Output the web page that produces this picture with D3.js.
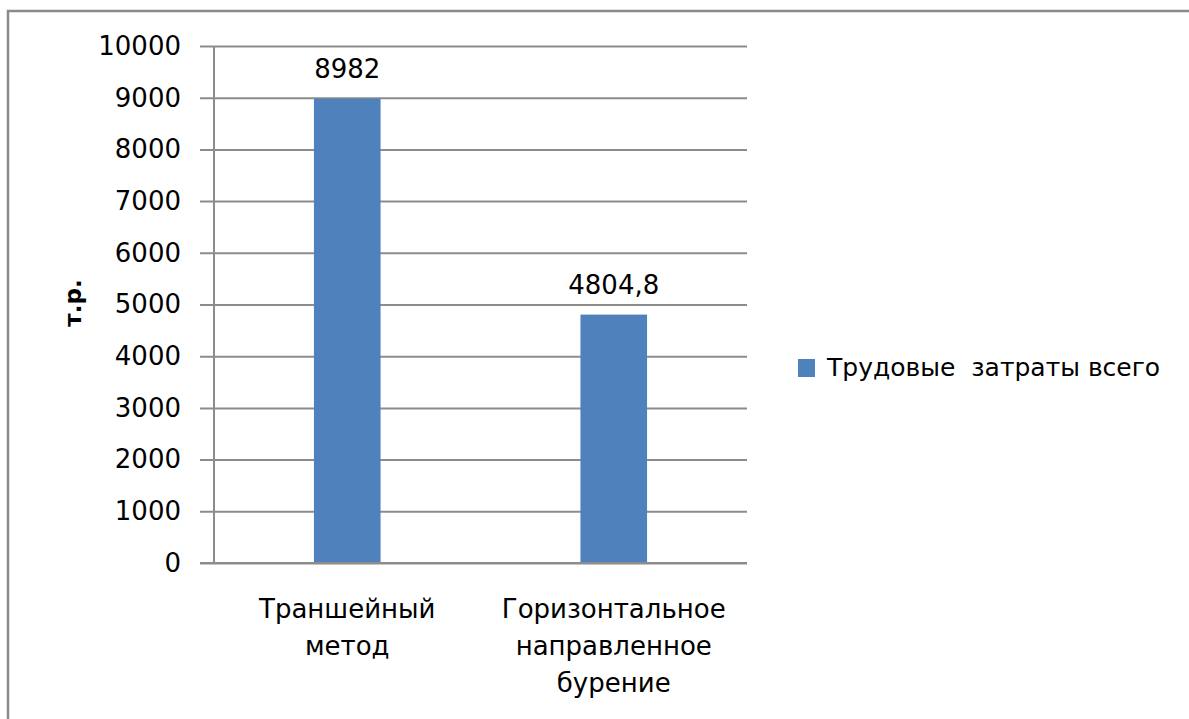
<!DOCTYPE html>
<html>
<head>
<meta charset="utf-8">
<script src="https://cdn.jsdelivr.net/npm/d3@7"></script>
<style>
  html, body { margin: 0; padding: 0; background: #fff; }
  svg { display: block; }
  text { font-family: "DejaVu Sans", Verdana, sans-serif; fill: #000; }
</style>
</head>
<body>
<svg id="chart" width="1189" height="719"></svg>
<script>
const categories = [["Траншейный", "метод"], ["Горизонтальное", "направленное", "бурение"]];
const values = [8982, 4804.8];
const valueLabels = ["8982", "4804,8"];
const yTicks = [0, 1000, 2000, 3000, 4000, 5000, 6000, 7000, 8000, 9000, 10000];
const seriesName = "Трудовые  затраты всего";
const yTitle = "т.р.";

const svg = d3.select("#chart");
const W = 1189, H = 719;
const plot = { left: 214, right: 747, top: 46, bottom: 563 };
const fontSize = 26;
const gridColor = "#8c8c8c";
const barColor = "#4f81bd";

// outer border (cropped at right/bottom)
svg.append("rect").attr("x", 8).attr("y", 11).attr("width", W + 20).attr("height", H + 20)
  .attr("fill", "#fff").attr("stroke", "#8a8a8a").attr("stroke-width", 2.5);

const x = d3.scaleBand().domain(d3.range(values.length)).range([plot.left, plot.right])
  .paddingInner(0.75).paddingOuter(0.375);
const y = d3.scaleLinear().domain([0, 10000]).range([plot.bottom, plot.top]);

// gridlines + tick marks
const yAxis = d3.axisLeft(y).tickValues(yTicks).tickSize(-(plot.right - plot.left)).tickPadding(33)
  .tickFormat(d3.format("d"));
const gY = svg.append("g").attr("transform", `translate(${plot.left},0)`).call(yAxis);
gY.select(".domain").remove();
gY.selectAll(".tick line").attr("stroke", gridColor).attr("stroke-width", 2)
  .attr("x1", -14);
gY.selectAll(".tick text").attr("font-size", fontSize).attr("font-family", "DejaVu Sans").attr("fill", "#000");

// y axis line
svg.append("line").attr("x1", plot.left).attr("x2", plot.left).attr("y1", plot.top).attr("y2", plot.bottom)
  .attr("stroke", gridColor).attr("stroke-width", 2);

// bars
svg.selectAll("rect.bar").data(values).enter().append("rect").attr("class", "bar")
  .attr("x", (d, i) => x(i)).attr("width", x.bandwidth())
  .attr("y", d => y(d)).attr("height", d => plot.bottom - y(d))
  .attr("fill", barColor);

// redraw baseline on top of bars
svg.append("line").attr("x1", plot.left - 14).attr("x2", plot.right).attr("y1", y(0)).attr("y2", y(0))
  .attr("stroke", gridColor).attr("stroke-width", 2);

// value labels
svg.selectAll("text.val").data(values).enter().append("text").attr("class", "val")
  .attr("x", (d, i) => x(i) + x.bandwidth() / 2).attr("y", d => y(d) - 21)
  .attr("text-anchor", "middle").attr("font-size", fontSize).text((d, i) => valueLabels[i]);

// category labels
categories.forEach((lines, i) => {
  const t = svg.append("text").attr("text-anchor", "middle").attr("font-size", fontSize)
    .attr("x", x(i) + x.bandwidth() / 2).attr("y", 618);
  lines.forEach((ln, j) => t.append("tspan").attr("x", x(i) + x.bandwidth() / 2).attr("dy", j ? 37 : 0).text(ln));
});

// y title
svg.append("text").attr("transform", "translate(81,303) rotate(-90)").attr("text-anchor", "middle")
  .attr("font-size", 23).attr("font-weight", "bold").text(yTitle);

// legend
svg.append("rect").attr("x", 798).attr("y", 359).attr("width", 17).attr("height", 18).attr("fill", barColor);
svg.append("text").attr("x", 827).attr("y", 376).attr("font-size", 25).attr("xml:space", "preserve")
  .style("white-space", "pre").text(seriesName);
</script>
</body>
</html>
